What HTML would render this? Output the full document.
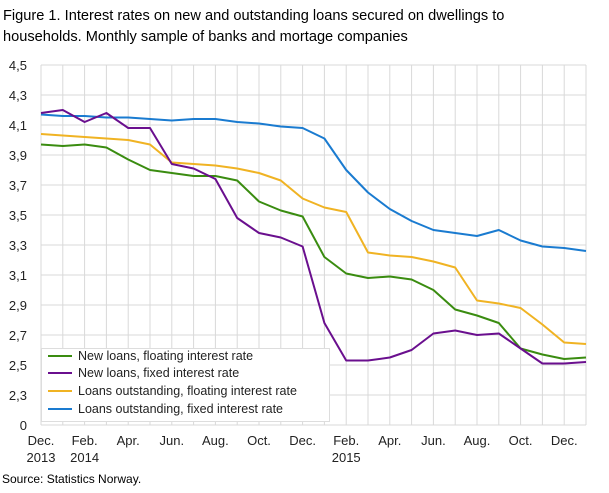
<!DOCTYPE html>
<html><head><meta charset="utf-8"><style>
body{margin:0;background:#fff;width:609px;height:488px;overflow:hidden;font-family:"Liberation Sans","DejaVu Sans",sans-serif}
</style></head><body>
<svg id="s" width="609" height="488" xmlns="http://www.w3.org/2000/svg" font-family="Liberation Sans, DejaVu Sans, sans-serif">
<text x="3" y="20" font-size="14.6" fill="#000">Figure 1. Interest rates on new and outstanding loans secured on dwellings to</text>
<text x="3" y="41" font-size="14.6" fill="#000">households. Monthly sample of banks and mortage companies</text>
<g id="grid"></g>
<g id="lines"></g>
<rect x="41.5" y="348.5" width="288" height="73" fill="#fff" stroke="#ddd"/>
<g font-size="12.5" fill="#222">
<line x1="48" y1="356" x2="72" y2="356" stroke="#3a8c10" stroke-width="2"/><text x="78" y="360">New loans, floating interest rate</text>
<line x1="48" y1="373" x2="72" y2="373" stroke="#6a0f8e" stroke-width="2"/><text x="78" y="377">New loans, fixed interest rate</text>
<line x1="48" y1="391" x2="72" y2="391" stroke="#f0b323" stroke-width="2"/><text x="78" y="395">Loans outstanding, floating interest rate</text>
<line x1="48" y1="409" x2="72" y2="409" stroke="#1a7bd0" stroke-width="2"/><text x="78" y="413">Loans outstanding, fixed interest rate</text>
</g>
<text x="2" y="483" font-size="12" fill="#000">Source: Statistics Norway.</text>
</svg>
<script>
var s=document.getElementById('grid'),L=document.getElementById('lines'),ns="http://www.w3.org/2000/svg";
function el(p,t,a,txt){var e=document.createElementNS(ns,t);for(var k in a)e.setAttribute(k,a[k]);if(txt)e.textContent=txt;p.appendChild(e);return e;}
var x0=41,dx=(586-41)/25;
function X(i){return x0+i*dx}
function Y(v){return 65+(4.5-v)*150}
var labs=["4,5","4,3","4,1","3,9","3,7","3,5","3,3","3,1","2,9","2,7","2,5","2,3","0"];
for(var j=0;j<13;j++){var y=65+j*30;el(s,'line',{x1:x0,x2:586,y1:y,y2:y,stroke:'#d9d9d9'});el(s,'text',{x:27,y:y+5,'font-size':13,fill:'#222','text-anchor':'end'},labs[j]);}
for(var i=0;i<26;i++){el(s,'line',{x1:X(i),x2:X(i),y1:65,y2:425,stroke:'#d9d9d9'});}
var ml=["Dec.","Feb.","Apr.","Jun.","Aug.","Oct.","Dec.","Feb.","Apr.","Jun.","Aug.","Oct.","Dec."];
for(var k=0;k<13;k++){el(s,'text',{x:X(2*k),y:445,'font-size':13,fill:'#222','text-anchor':'middle'},ml[k]);}
el(s,'text',{x:X(0),y:462,'font-size':13,fill:'#222','text-anchor':'middle'},"2013");
el(s,'text',{x:X(2),y:462,'font-size':13,fill:'#222','text-anchor':'middle'},"2014");
el(s,'text',{x:X(14),y:462,'font-size':13,fill:'#222','text-anchor':'middle'},"2015");
var D=[["#1a7bd0",[4.17,4.16,4.16,4.15,4.15,4.14,4.13,4.14,4.14,4.12,4.11,4.09,4.08,4.01,3.80,3.65,3.54,3.46,3.40,3.38,3.36,3.40,3.33,3.29,3.28,3.26]],
["#f0b323",[4.04,4.03,4.02,4.01,4.00,3.97,3.85,3.84,3.83,3.81,3.78,3.73,3.61,3.55,3.52,3.25,3.23,3.22,3.19,3.15,2.93,2.91,2.88,2.77,2.65,2.64]],
["#3a8c10",[3.97,3.96,3.97,3.95,3.87,3.80,3.78,3.76,3.76,3.73,3.59,3.53,3.49,3.22,3.11,3.08,3.09,3.07,3.00,2.87,2.83,2.78,2.61,2.57,2.54,2.55]],
["#6a0f8e",[4.18,4.20,4.12,4.18,4.08,4.08,3.84,3.81,3.74,3.48,3.38,3.35,3.29,2.78,2.53,2.53,2.55,2.60,2.71,2.73,2.70,2.71,2.61,2.51,2.51,2.52]]];
D.forEach(function(d){var p=d[1].map(function(v,i){return X(i).toFixed(1)+","+Y(v).toFixed(1)}).join(" ");el(L,'polyline',{points:p,fill:'none',stroke:d[0],'stroke-width':2,'stroke-linejoin':'round'});});
</script>
</body></html>
